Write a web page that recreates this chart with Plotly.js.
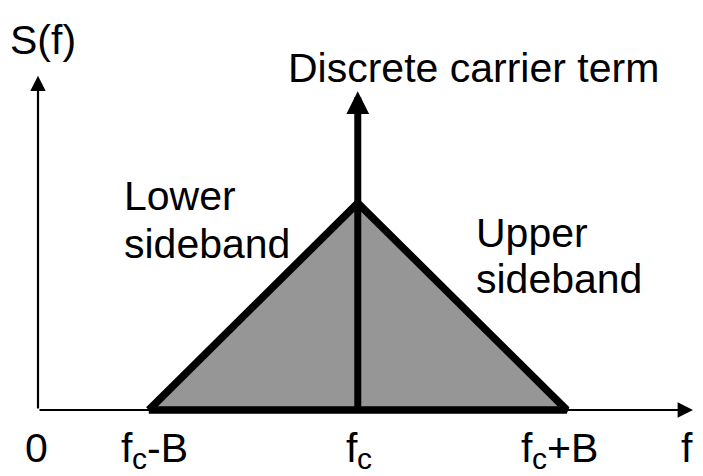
<!DOCTYPE html>
<html><head><meta charset="utf-8">
<script src="https://cdn.plot.ly/plotly-3.0.1.min.js"></script>
<style>html,body{margin:0;padding:0;background:#fff}</style>
</head><body>
<div id="chart" style="width:703px;height:476px"></div>
<script>
// ---- data ----
const fc = 1.53;          // carrier frequency (in units of B)
const B = 1;              // bandwidth
const bandX = [fc - B, fc, fc + B, fc - B];
const bandY = [0, 1, 0, 0];
const carrierHeight = 1.54;
const xAxisEnd = 3.134;
const yAxisEnd = 1.615;
const tickVals = [0, fc - B, fc, fc + B, xAxisEnd];
const tickMain = ['0', 'f', 'f', 'f', 'f'];
const tickSub = ['', 'c', 'c', 'c', ''];
const tickSuffix = ['', '-B', '', '+B', ''];

// ---- styling / layout helpers ----
const FAMILY = 'Arial, "Liberation Sans", sans-serif';
const FONT = {family: FAMILY, size: 41, color: '#000'};
const SUBSIZE = 30;
const SUBFONT = {family: FAMILY, size: SUBSIZE, color: '#000'};
const ADV = {'0': 0.556, 'f': 0.278, 'c': 0.5, '-': 0.333, '+': 0.584, 'B': 0.667};
const textW = (s, size) => s.split('').reduce((a, ch) => a + (ADV[ch] || 0.55) * size, 0);
const labelNudge = [-2, 6, 1, -7, -6];   // pixel nudges of label centres
const PX_PER_X = 209, PX_PER_Y = 207;

const traces = [{
  x: bandX, y: bandY, type: 'scatter', mode: 'lines',
  fill: 'toself', fillcolor: '#969696',
  line: {color: '#000', width: 7.5, shape: 'linear'},
  hoverinfo: 'skip'
}];

const annotations = [];
// axes arrows
annotations.push({x: xAxisEnd, y: 0, ax: 0, ay: 0, xref: 'x', yref: 'y', axref: 'x', ayref: 'y',
  text: '', showarrow: true, arrowhead: 2, arrowsize: 1.4, arrowwidth: 2.2, arrowcolor: '#000'});
annotations.push({x: 0, y: yAxisEnd, ax: 0, ay: 0, xref: 'x', yref: 'y', axref: 'x', ayref: 'y',
  text: '', showarrow: true, arrowhead: 2, arrowsize: 1.4, arrowwidth: 2.2, arrowcolor: '#000'});
// carrier arrow
annotations.push({x: fc, y: carrierHeight, ax: fc, ay: 0, xref: 'x', yref: 'y', axref: 'x', ayref: 'y',
  text: '', showarrow: true, arrowhead: 2, arrowsize: 0.65, arrowwidth: 7, arrowcolor: '#000'});
// tick labels (main glyph, subscript, suffix)
const mainY = -38 / PX_PER_Y;   // centre of main text ~448px
const subY = -48 / PX_PER_Y;    // centre of subscript box ~458px
tickVals.forEach((v, i) => {
  const wMain = textW(tickMain[i], 41), wSub = textW(tickSub[i], SUBSIZE), wSuf = textW(tickSuffix[i], 41);
  const total = wMain + wSub + wSuf;
  let off = -total / 2 + labelNudge[i];
  const common = {x: v, xref: 'x', yref: 'y', showarrow: false, xanchor: 'left', yanchor: 'middle',
    borderpad: 0, borderwidth: 0};
  annotations.push(Object.assign({}, common, {y: mainY, text: tickMain[i], font: FONT, xshift: off}));
  off += wMain;
  if (tickSub[i]) {
    annotations.push(Object.assign({}, common, {y: subY, text: tickSub[i], font: SUBFONT, xshift: off}));
    off += wSub;
  }
  if (tickSuffix[i]) {
    annotations.push(Object.assign({}, common, {y: mainY, text: tickSuffix[i], font: FONT, xshift: off}));
  }
});
// text labels
annotations.push({x: 0.024, y: 1.787, xref: 'x', yref: 'y', text: 'S(f)', showarrow: false, font: FONT});
annotations.push({x: 2.086, y: 1.652, xref: 'x', yref: 'y', text: 'Discrete carrier term', showarrow: false, font: FONT});
annotations.push({x: 0.40, y: 1.034, xref: 'x', yref: 'y', text: 'Lower', showarrow: false, font: FONT, xanchor: 'left'});
annotations.push({x: 0.40, y: 0.802, xref: 'x', yref: 'y', text: 'sideband', showarrow: false, font: FONT, xanchor: 'left'});
annotations.push({x: 2.086, y: 0.855, xref: 'x', yref: 'y', text: 'Upper', showarrow: false, font: FONT, xanchor: 'left'});
annotations.push({x: 2.086, y: 0.635, xref: 'x', yref: 'y', text: 'sideband', showarrow: false, font: FONT, xanchor: 'left'});

const layout = {
  width: 703, height: 476,
  margin: {l: 0, r: 0, t: 0, b: 0, pad: 0},
  paper_bgcolor: '#fff', plot_bgcolor: '#fff',
  showlegend: false,
  xaxis: {range: [-38/PX_PER_X, (703-38)/PX_PER_X], visible: false, fixedrange: true},
  yaxis: {range: [-66/PX_PER_Y, 410/PX_PER_Y], visible: false, fixedrange: true},
  annotations: annotations
};

Plotly.newPlot('chart', traces, layout, {staticPlot: true, displayModeBar: false});
</script>
</body></html>
